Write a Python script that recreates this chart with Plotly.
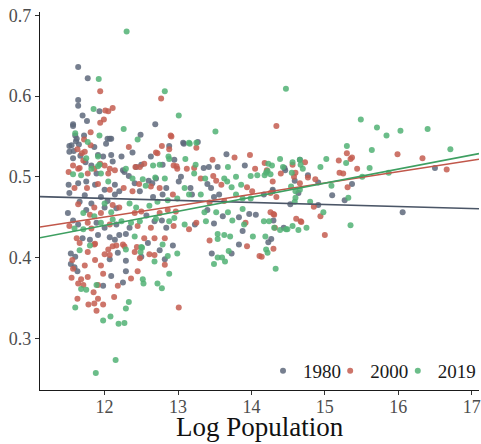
import plotly.graph_objects as go

# ---- data: log population vs. share, three census years ----
years = ["1980", "2000", "2019"]

x_1980 = [11.64, 11.77, 11.64, 11.64, 11.93, 11.70, 11.76, 11.57, 11.60, 11.72, 12.04, 12.09, 11.62,
          12.69, 12.49, 13.08, 13.27, 13.66, 14.66, 12.95, 16.50, 16.06, 15.37, 15.27, 15.10, 14.91,
          14.91, 14.77, 14.59, 14.46, 14.64, 14.53, 14.29, 14.30, 14.44, 14.27, 14.23, 13.83, 13.73,
          13.46, 13.35, 13.42, 13.54, 13.91, 14.45, 13.04, 13.01, 13.17, 13.40, 13.45, 14.29, 14.17,
          13.19, 13.49, 13.56, 13.40, 13.61, 13.83, 13.97, 14.06, 13.23, 13.49, 13.88, 11.70, 11.80,
          11.91, 11.54, 11.60, 11.54, 11.59, 11.63, 12.07, 12.14, 12.20, 12.29, 12.07, 12.18, 12.29,
          12.50, 12.59, 12.75, 12.82, 12.93, 12.09, 12.25, 11.98, 12.29, 11.52, 11.65, 11.86, 11.58,
          11.57, 11.67, 11.74, 11.82, 11.98, 12.09, 11.89, 12.11, 11.51, 11.64, 11.75, 11.87, 12.14,
          12.00, 11.52, 11.73, 11.95, 12.14, 11.66, 11.82, 12.04, 11.50, 11.75, 12.00, 12.16, 11.57,
          11.64, 11.89, 12.00, 12.16, 12.23, 12.38, 12.63, 12.88, 12.79, 12.25, 12.33, 12.41, 12.60,
          12.65, 12.20, 12.48, 12.66, 12.79, 12.84, 12.57, 12.68, 12.78, 12.84, 12.34, 13.07, 12.07,
          12.02, 11.91, 11.52, 11.57, 11.55, 11.61, 12.27, 12.43, 12.50, 12.70]
y_1980 = [0.636, 0.622, 0.595, 0.588, 0.581, 0.576, 0.569, 0.565, 0.551, 0.551, 0.547, 0.547, 0.547,
          0.565, 0.552, 0.541, 0.543, 0.528, 0.521, 0.521, 0.511, 0.456, 0.491, 0.471, 0.477, 0.465,
          0.493, 0.502, 0.495, 0.508, 0.480, 0.466, 0.482, 0.446, 0.437, 0.423, 0.419, 0.416, 0.405,
          0.405, 0.511, 0.512, 0.512, 0.514, 0.511, 0.500, 0.494, 0.486, 0.491, 0.486, 0.484, 0.478,
          0.478, 0.475, 0.478, 0.459, 0.451, 0.450, 0.454, 0.453, 0.441, 0.442, 0.433, 0.424, 0.422,
          0.428, 0.405, 0.401, 0.392, 0.388, 0.383, 0.425, 0.422, 0.428, 0.429, 0.398, 0.406, 0.396,
          0.401, 0.418, 0.409, 0.398, 0.415, 0.377, 0.369, 0.365, 0.383, 0.538, 0.540, 0.537, 0.532,
          0.523, 0.526, 0.518, 0.514, 0.525, 0.527, 0.504, 0.519, 0.490, 0.492, 0.494, 0.490, 0.490,
          0.484, 0.480, 0.477, 0.475, 0.478, 0.469, 0.467, 0.470, 0.455, 0.459, 0.462, 0.461, 0.446,
          0.441, 0.443, 0.437, 0.441, 0.525, 0.530, 0.525, 0.538, 0.515, 0.508, 0.501, 0.492, 0.495,
          0.492, 0.482, 0.482, 0.475, 0.478, 0.486, 0.452, 0.445, 0.446, 0.437, 0.437, 0.542, 0.547,
          0.541, 0.527, 0.531, 0.563, 0.539, 0.544, 0.506, 0.512, 0.515, 0.498]

x_2000 = [11.94, 12.01, 12.05, 12.11, 11.99, 11.94, 11.81, 11.72, 12.77, 12.90, 14.34, 13.25, 13.77,
          13.98, 13.47, 15.99, 16.33, 16.66, 15.30, 15.37, 15.35, 15.19, 15.44, 15.20, 15.25, 15.31,
          15.00, 14.94, 14.85, 14.87, 14.77, 14.73, 14.60, 14.58, 14.66, 14.40, 14.18, 14.21, 14.29,
          14.34, 14.26, 14.30, 14.32, 14.61, 14.68, 14.30, 14.11, 14.14, 13.94, 13.43, 12.99, 13.12,
          13.22, 14.05, 14.56, 13.31, 13.48, 13.52, 13.59, 13.94, 14.01, 14.26, 13.43, 13.63, 13.15,
          13.25, 13.92, 14.31, 14.67, 11.62, 11.66, 11.87, 11.77, 11.87, 11.56, 11.57, 11.73, 12.05,
          12.00, 12.07, 12.11, 12.16, 11.86, 12.25, 12.27, 12.41, 12.44, 12.48, 12.54, 12.68, 12.82,
          12.61, 12.68, 12.82, 11.95, 11.98, 11.77, 11.68, 11.55, 11.64, 11.71, 12.18, 12.36, 12.45,
          11.91, 11.85, 11.91, 11.63, 11.78, 11.86, 11.98, 11.89, 12.13, 13.01, 11.63, 11.69, 11.81,
          11.51, 11.66, 11.86, 12.00, 12.05, 11.77, 11.59, 11.76, 11.91, 12.07, 11.64, 11.86, 12.11,
          11.80, 11.95, 11.52, 11.77, 11.82, 12.07, 12.33, 12.78, 12.70, 12.88, 12.42, 12.54, 12.94,
          12.26, 12.38, 12.47, 12.63, 12.75, 12.93, 12.20, 12.41, 12.50, 12.75, 12.86, 12.97, 12.45,
          12.63, 12.94, 12.48, 12.72, 12.91, 12.98, 11.73, 11.71, 11.64, 11.57, 12.07, 12.14, 11.94]
y_2000 = [0.606, 0.582, 0.581, 0.585, 0.571, 0.567, 0.555, 0.546, 0.597, 0.551, 0.563, 0.536, 0.524,
          0.527, 0.521, 0.528, 0.523, 0.509, 0.529, 0.524, 0.522, 0.520, 0.510, 0.505, 0.504, 0.487,
          0.428, 0.451, 0.463, 0.497, 0.499, 0.518, 0.505, 0.500, 0.492, 0.504, 0.517, 0.508, 0.494,
          0.475, 0.456, 0.454, 0.437, 0.448, 0.444, 0.411, 0.402, 0.401, 0.414, 0.421, 0.510, 0.510,
          0.511, 0.510, 0.515, 0.498, 0.501, 0.495, 0.490, 0.487, 0.482, 0.480, 0.468, 0.470, 0.435,
          0.443, 0.443, 0.453, 0.445, 0.424, 0.418, 0.417, 0.407, 0.397, 0.397, 0.386, 0.390, 0.410,
          0.404, 0.403, 0.414, 0.415, 0.416, 0.416, 0.414, 0.407, 0.413, 0.399, 0.424, 0.424, 0.424,
          0.404, 0.403, 0.391, 0.390, 0.380, 0.376, 0.373, 0.375, 0.368, 0.366, 0.365, 0.374, 0.383,
          0.366, 0.357, 0.349, 0.349, 0.342, 0.343, 0.342, 0.334, 0.351, 0.338, 0.534, 0.529, 0.539,
          0.506, 0.511, 0.510, 0.514, 0.504, 0.504, 0.486, 0.486, 0.491, 0.484, 0.466, 0.462, 0.465,
          0.453, 0.455, 0.439, 0.443, 0.436, 0.441, 0.537, 0.538, 0.530, 0.534, 0.512, 0.516, 0.514,
          0.486, 0.482, 0.491, 0.488, 0.486, 0.478, 0.462, 0.455, 0.457, 0.455, 0.459, 0.457, 0.439,
          0.437, 0.439, 0.512, 0.529, 0.550, 0.513, 0.531, 0.520, 0.510, 0.514, 0.510, 0.508, 0.516]

x_2019 = [11.92, 11.85, 11.60, 11.93, 12.26, 12.82, 13.01, 12.45, 12.30, 14.47, 13.51, 13.16, 13.10,
          14.39, 15.49, 15.71, 15.84, 16.03, 16.40, 16.71, 15.64, 15.30, 15.29, 15.61, 15.87, 15.51,
          15.32, 15.09, 15.35, 14.98, 14.80, 14.94, 15.02, 14.66, 14.67, 14.56, 14.55, 14.43, 14.28,
          14.22, 14.20, 14.23, 14.60, 14.66, 14.59, 14.24, 14.39, 14.49, 14.64, 14.75, 14.19, 14.20,
          14.22, 14.33, 13.69, 14.02, 13.71, 13.54, 13.49, 13.54, 13.60, 13.64, 13.24, 13.68, 14.70,
          13.22, 13.37, 13.63, 13.79, 13.99, 14.08, 14.18, 14.26, 13.09, 13.67, 13.73, 13.86, 14.54,
          14.60, 12.99, 13.15, 13.31, 13.79, 13.88, 13.99, 13.36, 13.52, 13.68, 13.88, 13.09, 13.38,
          13.54, 13.63, 13.74, 13.90, 14.17, 14.31, 14.47, 14.56, 11.80, 11.66, 12.29, 12.50, 12.49,
          12.41, 12.51, 12.86, 12.68, 12.79, 12.99, 12.88, 11.68, 11.75, 11.89, 12.52, 12.53, 12.72,
          12.78, 11.60, 12.33, 12.29, 11.98, 12.08, 12.19, 12.27, 11.88, 12.15, 11.77, 11.75, 11.91,
          11.57, 11.68, 11.91, 11.95, 12.05, 11.71, 12.00, 12.09, 11.86, 11.59, 11.71, 11.95, 12.11,
          12.29, 12.87, 12.66, 12.75, 12.38, 12.52, 12.56, 12.69, 12.82, 12.34, 12.43, 12.61, 12.72,
          12.86, 12.23, 12.36, 12.48, 12.70, 12.88, 12.95, 13.15, 13.25, 12.88, 11.82, 11.93]
y_2019 = [0.621, 0.584, 0.554, 0.551, 0.559, 0.606, 0.576, 0.546, 0.680, 0.609, 0.556, 0.541, 0.522,
          0.522, 0.571, 0.561, 0.551, 0.557, 0.559, 0.534, 0.533, 0.538, 0.517, 0.511, 0.505, 0.500,
          0.474, 0.489, 0.440, 0.456, 0.469, 0.512, 0.522, 0.521, 0.515, 0.518, 0.505, 0.512, 0.514,
          0.507, 0.505, 0.516, 0.474, 0.484, 0.469, 0.445, 0.434, 0.435, 0.434, 0.437, 0.426, 0.410,
          0.406, 0.386, 0.408, 0.426, 0.426, 0.423, 0.392, 0.400, 0.400, 0.395, 0.515, 0.512, 0.510,
          0.504, 0.498, 0.498, 0.500, 0.501, 0.502, 0.502, 0.503, 0.486, 0.494, 0.487, 0.490, 0.488,
          0.482, 0.473, 0.478, 0.478, 0.478, 0.473, 0.473, 0.456, 0.456, 0.456, 0.460, 0.441, 0.445,
          0.429, 0.428, 0.446, 0.441, 0.445, 0.437, 0.435, 0.439, 0.415, 0.409, 0.410, 0.413, 0.407,
          0.426, 0.412, 0.402, 0.395, 0.416, 0.405, 0.380, 0.361, 0.360, 0.366, 0.373, 0.368, 0.368,
          0.362, 0.338, 0.345, 0.337, 0.322, 0.327, 0.318, 0.319, 0.257, 0.273, 0.543, 0.523, 0.525,
          0.503, 0.502, 0.513, 0.504, 0.494, 0.455, 0.467, 0.456, 0.451, 0.436, 0.435, 0.443, 0.447,
          0.510, 0.525, 0.514, 0.515, 0.498, 0.497, 0.489, 0.499, 0.498, 0.467, 0.462, 0.464, 0.469,
          0.471, 0.445, 0.443, 0.445, 0.448, 0.445, 0.449, 0.542, 0.542, 0.522, 0.510, 0.515]

# linear fit per year: intercept, slope
fit_intercept = [0.5036, 0.2815, 0.2309]
fit_slope = [-0.00253, 0.01405, 0.01741]

x_range = [11.12, 17.10]
y_range = [0.236, 0.704]
x_ticks = [12, 13, 14, 15, 16, 17]
y_ticks = [0.3, 0.4, 0.5, 0.6, 0.7]
x_title = "Log Population"

point_colors = ["#5e697b", "#c45d50", "#51b274"]
line_colors = ["#4b5667", "#c1574a", "#3e9f61"]

FONT = "Liberation Serif"

# one single-entry legend per year, laid out in a row at the lower right
legend_ids = ["legend", "legend2", "legend3"]
legend_x = [0.508, 0.661, 0.815]

fig = go.Figure()
series = [(x_1980, y_1980), (x_2000, y_2000), (x_2019, y_2019)]
for i, (xs, ys) in enumerate(series):
    fig.add_trace(go.Scatter(
        x=xs, y=ys, mode="markers", name=years[i],
        marker=dict(size=6, color=point_colors[i], opacity=0.85, line=dict(width=0)),
        legend=legend_ids[i],
    ))

for i in range(3):
    fig.add_trace(go.Scatter(
        x=x_range,
        y=[fit_intercept[i] + fit_slope[i] * v for v in x_range],
        mode="lines", line=dict(color=line_colors[i], width=1.6),
        showlegend=False, hoverinfo="skip",
    ))

# x-axis title placed as an annotation for finer vertical control
fig.add_annotation(
    text=x_title, xref="paper", yref="paper", x=0.5, y=-0.097,
    xanchor="center", yanchor="middle", showarrow=False,
    font=dict(family=FONT, size=27, color="#111111"),
)

legend_style = dict(
    orientation="h", xanchor="left", y=0.0, yanchor="bottom",
    bgcolor="rgba(0,0,0,0)", font=dict(family=FONT, size=19, color="#1a1a1a"),
    itemwidth=30,
)

fig.update_layout(
    width=481, height=444,
    margin=dict(l=40, r=0, t=12, b=54),
    paper_bgcolor="white", plot_bgcolor="white",
    font=dict(family=FONT, size=18, color="#4d4d4d"),
    showlegend=True,
    legend=dict(x=legend_x[0], **legend_style),
    legend2=dict(x=legend_x[1], **legend_style),
    legend3=dict(x=legend_x[2], **legend_style),
    xaxis=dict(
        range=x_range, tickvals=x_ticks, showgrid=False, zeroline=False,
        showline=True, linecolor="#1a1a1a", linewidth=1.4,
        ticks="outside", ticklen=4, tickcolor="#333333", tickwidth=1,
        ticklabelstandoff=-4, ticklabeloverflow="allow",
        tickfont=dict(family=FONT, size=18, color="#4d4d4d"),
        automargin=False,
    ),
    yaxis=dict(
        range=y_range, tickvals=y_ticks, tickformat=".1f", showgrid=False, zeroline=False,
        showline=True, linecolor="#1a1a1a", linewidth=1.4,
        ticks="outside", ticklen=4, tickcolor="#333333", tickwidth=1,
        tickfont=dict(family=FONT, size=18, color="#4d4d4d"),
        automargin=False,
    ),
)

fig.write_html("out.html")
